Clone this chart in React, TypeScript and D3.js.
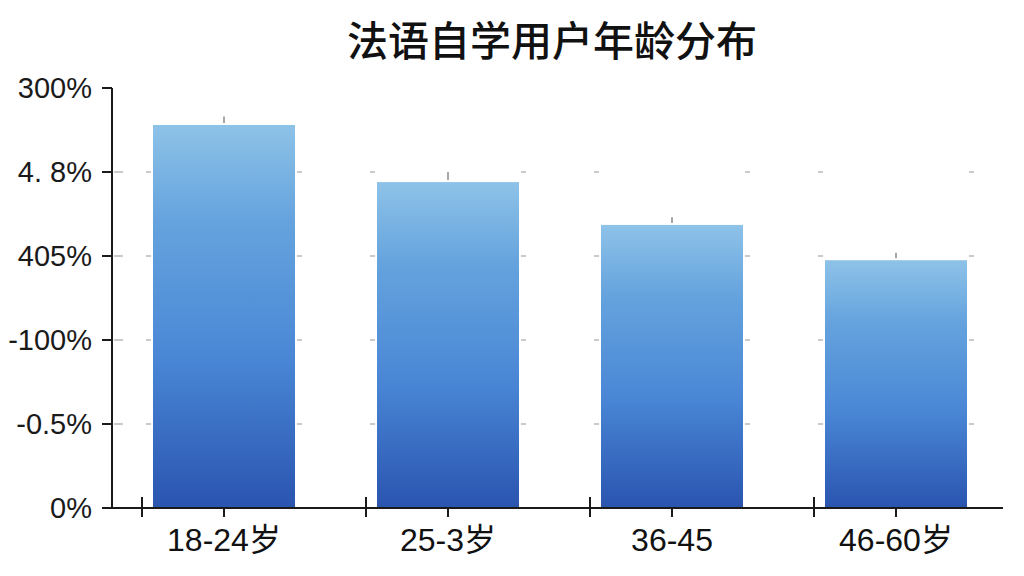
import { useEffect, useRef } from 'react';
import * as d3 from 'd3';

const categories = ['18-24岁', '25-3岁', '36-45', '46-60岁'];
const values = [45.6, 38.8, 33.7, 29.5];
const errorTops = [46.6, 40.0, 34.6, 30.4];
const yTicks = [0, 10, 20, 30, 40, 50];
const yTickLabels = ['0%', '-0.5%', '-100%', '405%', '4. 8%', '300%'];
const title = '法语自学用户年龄分布';

export default function App() {
  const svgRef = useRef<SVGSVGElement | null>(null);

  useEffect(() => {
    if (!svgRef.current) return;
    document.body.style.margin = '0';

    const width = 1024;
    const height = 576;
    const font = '"Liberation Sans", Arial, "Noto Sans CJK SC", sans-serif';

    const svg = d3.select(svgRef.current);
    svg.selectAll('*').remove();
    svg.attr('width', width).attr('height', height);

    const x = d3
      .scaleBand<string>()
      .domain(categories)
      .range([112, 1008])
      .paddingInner(0.366)
      .paddingOuter(0.183);
    const y = d3.scaleLinear().domain([0, 50]).range([508, 88]);

    const grad = svg
      .append('defs')
      .append('linearGradient')
      .attr('id', 'barGrad')
      .attr('x1', 0)
      .attr('y1', 0)
      .attr('x2', 0)
      .attr('y2', 1);
    grad.append('stop').attr('offset', '0%').attr('stop-color', '#8ec3e8');
    grad.append('stop').attr('offset', '25%').attr('stop-color', '#65a3de');
    grad.append('stop').attr('offset', '60%').attr('stop-color', '#4a88d6');
    grad.append('stop').attr('offset', '100%').attr('stop-color', '#2a54b0');

    svg.append('rect').attr('width', width).attr('height', height).attr('fill', '#ffffff');

    // Title
    svg
      .append('text')
      .attr('x', 552)
      .attr('y', 38)
      .attr('text-anchor', 'middle')
      .attr('dominant-baseline', 'central')
      .attr('font-family', '"Noto Sans CJK SC", sans-serif')
      .attr('font-size', 41)
      .attr('font-weight', 500)
      .attr('fill', '#111')
      .text(title);

    // Faint grid remnants beside the bars
    const gridLevels = yTicks.slice(1, -1);
    categories.forEach((c) => {
      const x0 = x(c)!;
      const x1 = x0 + x.bandwidth();
      gridLevels.forEach((t) => {
        [
          [x0 - 7, x0 - 2],
          [x1 + 2, x1 + 7],
        ].forEach(([a, b]) => {
          svg
            .append('line')
            .attr('x1', a)
            .attr('x2', b)
            .attr('y1', y(t))
            .attr('y2', y(t))
            .attr('stroke', '#b8b8b8')
            .attr('stroke-width', 1.5);
        });
      });
    });

    // Bars
    svg
      .selectAll('.bar')
      .data(categories)
      .enter()
      .append('rect')
      .attr('class', 'bar')
      .attr('x', (d) => x(d)!)
      .attr('y', (_, i) => y(values[i]))
      .attr('width', x.bandwidth())
      .attr('height', (_, i) => y(0) - y(values[i]))
      .attr('fill', 'url(#barGrad)');

    // Small error ticks above bars
    categories.forEach((c, i) => {
      const cx = x(c)! + x.bandwidth() / 2;
      svg
        .append('line')
        .attr('x1', cx)
        .attr('x2', cx)
        .attr('y1', y(errorTops[i]))
        .attr('y2', y(values[i]) - 2)
        .attr('stroke', '#8a8a8a')
        .attr('stroke-width', 1.5);
    });

    // Y axis
    const yAxis = svg.append('g');
    yAxis
      .append('line')
      .attr('x1', 112)
      .attr('x2', 112)
      .attr('y1', y(50))
      .attr('y2', y(0))
      .attr('stroke', '#1a1a1a')
      .attr('stroke-width', 2);
    yTicks.forEach((t, i) => {
      yAxis
        .append('line')
        .attr('x1', 102)
        .attr('x2', 112)
        .attr('y1', y(t))
        .attr('y2', y(t))
        .attr('stroke', '#1a1a1a')
        .attr('stroke-width', 2);
      if (i > 0 && i < yTicks.length - 1) {
        yAxis
          .append('line')
          .attr('x1', 114)
          .attr('x2', 123)
          .attr('y1', y(t))
          .attr('y2', y(t))
          .attr('stroke', '#b8b8b8')
          .attr('stroke-width', 1.5);
      }
      yAxis
        .append('text')
        .attr('x', 92)
        .attr('y', y(t))
        .attr('text-anchor', 'end')
        .attr('dominant-baseline', 'central')
        .attr('font-family', font)
        .attr('font-size', 29)
        .attr('fill', '#1a1a1a')
        .text(yTickLabels[i]);
    });

    // X axis
    const xAxis = svg.append('g');
    xAxis
      .append('line')
      .attr('x1', 105)
      .attr('x2', 1003)
      .attr('y1', y(0))
      .attr('y2', y(0))
      .attr('stroke', '#1a1a1a')
      .attr('stroke-width', 2);
    categories.forEach((c) => {
      const cx = x(c)! + x.bandwidth() / 2;
      xAxis
        .append('line')
        .attr('x1', x(c)! - 11)
        .attr('x2', x(c)! - 11)
        .attr('y1', y(0) - 11)
        .attr('y2', y(0) + 9)
        .attr('stroke', '#1a1a1a')
        .attr('stroke-width', 2);
      xAxis
        .append('line')
        .attr('x1', cx)
        .attr('x2', cx)
        .attr('y1', y(0))
        .attr('y2', y(0) + 9)
        .attr('stroke', '#1a1a1a')
        .attr('stroke-width', 2);
      xAxis
        .append('text')
        .attr('x', cx)
        .attr('y', 540)
        .attr('text-anchor', 'middle')
        .attr('dominant-baseline', 'central')
        .attr('font-family', font)
        .attr('font-size', 32)
        .attr('fill', '#111')
        .text(c);
    });
  }, []);

  return <svg ref={svgRef} style={{ display: 'block' }} />;
}
